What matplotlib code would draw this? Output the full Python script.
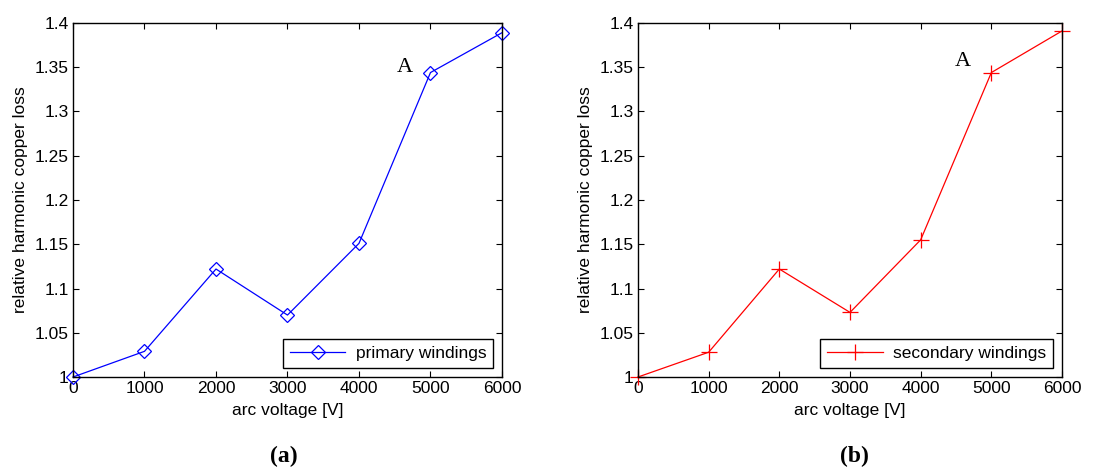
import matplotlib.pyplot as plt
import numpy as np

plt.rcParams['font.family'] = ['Liberation Sans', 'DejaVu Sans']

voltage = [0, 1000, 2000, 3000, 4000, 5000, 6000]
primary = [1.0, 1.029, 1.122, 1.070, 1.151, 1.344, 1.389]
secondary = [1.0, 1.028, 1.122, 1.073, 1.155, 1.344, 1.391]
yticks = [1, 1.05, 1.1, 1.15, 1.2, 1.25, 1.3, 1.35, 1.4]
ytick_labels = ['1', '1.05', '1.1', '1.15', '1.2', '1.25', '1.3', '1.35', '1.4']


def draw_panel(ax, y, color, marker, msize, label, a_pos):
    if marker == 'D':
        ax.plot(voltage, y, color=color, lw=0.9, marker='D', ms=msize,
                mfc='none', mec=color, mew=0.9, label=label, clip_on=False)
    else:
        ax.plot(voltage, y, color=color, lw=0.9, marker='+', ms=msize,
                mew=0.9, label=label, clip_on=False)
    ax.set_xlim(0, 6000)
    ax.set_ylim(1, 1.4)
    ax.set_xticks(voltage)
    ax.set_yticks(yticks)
    ax.set_yticklabels(ytick_labels)
    ax.tick_params(direction='in', top=True, right=True, labelsize=12.5,
                   length=4, width=0.8, pad=3)
    for s in ax.spines.values():
        s.set_linewidth(1.0)
    ax.set_xlabel('arc voltage [V]', fontsize=12.5, labelpad=5)
    ax.set_ylabel('relative harmonic copper loss', fontsize=12.5, labelpad=5)
    ax.text(a_pos[0], a_pos[1], 'A', fontsize=16, family='Liberation Serif',
            ha='center', va='center')
    leg = ax.legend(loc='lower right', fontsize=12.5, fancybox=False,
                    edgecolor='black', framealpha=1, handlelength=3.2,
                    borderaxespad=0.5, borderpad=0.4, handletextpad=0.6)
    leg.get_frame().set_linewidth(1.0)


fig = plt.figure(figsize=(10.96, 4.75), dpi=100)
ax1 = fig.add_axes([0.0666, 0.2063, 0.3914, 0.7453])
ax2 = fig.add_axes([0.5821, 0.2063, 0.3869, 0.7453])

draw_panel(ax1, primary, 'blue', 'D', 7, 'primary windings', (4640, 1.350))
draw_panel(ax2, secondary, 'red', '+', 11, 'secondary windings', (4590, 1.356))

fig.text(0.259, 0.040, '(a)', fontsize=17, fontweight='bold',
         family='Liberation Serif', ha='center', va='center')
fig.text(0.780, 0.040, '(b)', fontsize=17, fontweight='bold',
         family='Liberation Serif', ha='center', va='center')

fig.savefig('out.png', dpi=100)
